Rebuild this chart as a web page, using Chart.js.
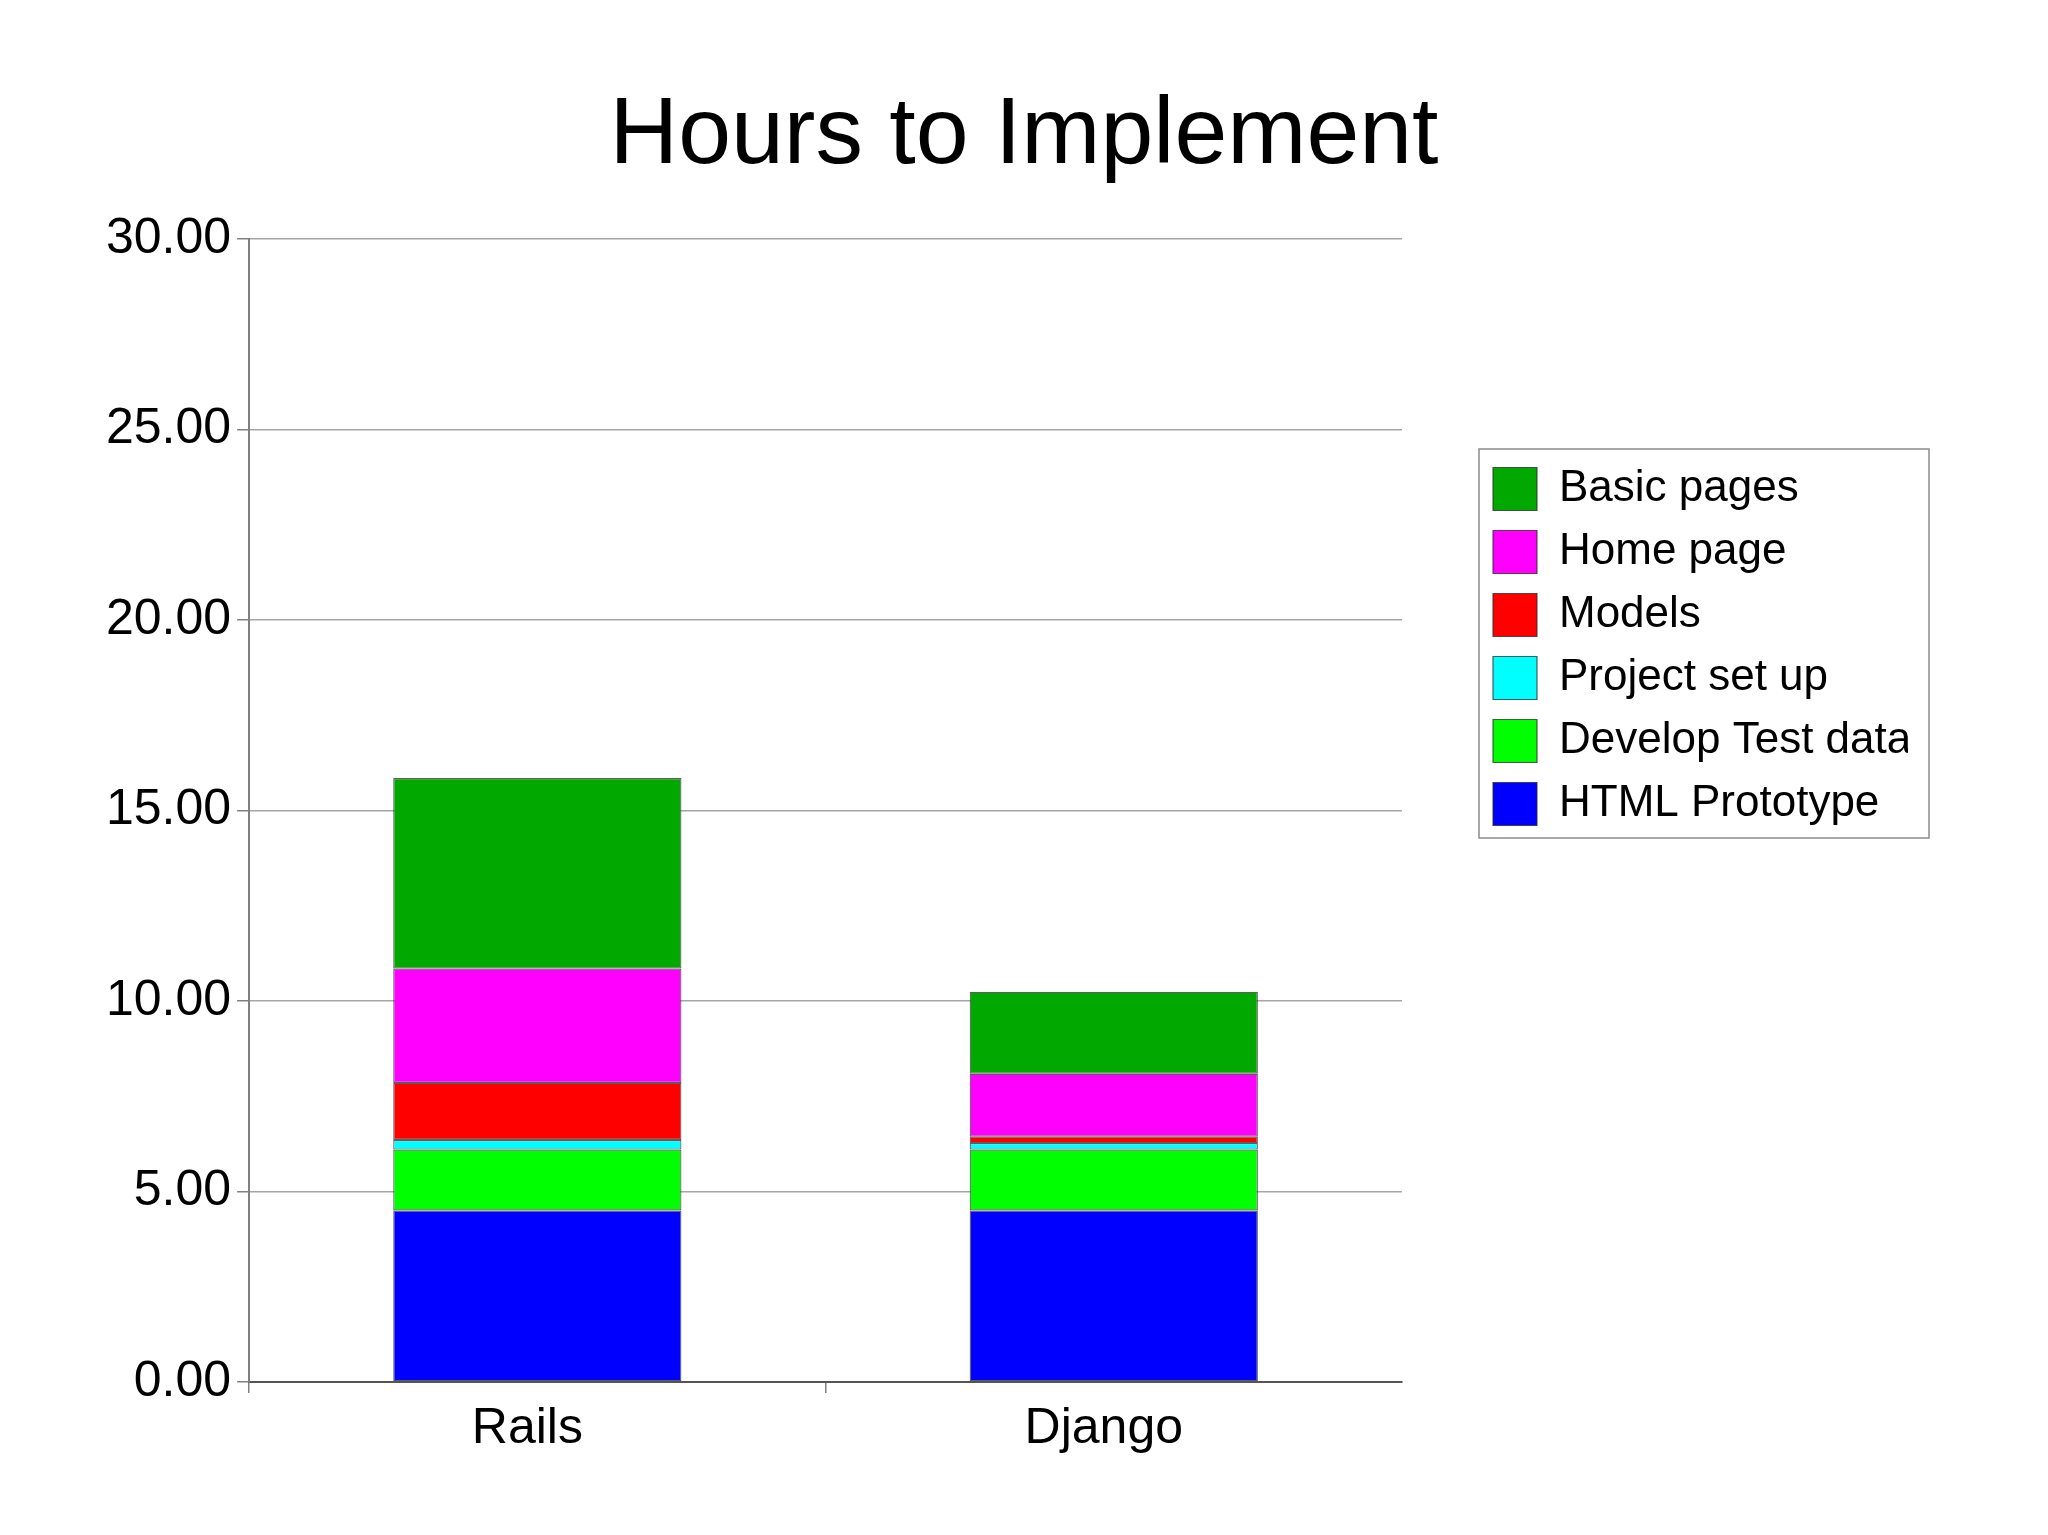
<!DOCTYPE html>
<html>
<head>
<meta charset="utf-8">
<title>Hours to Implement</title>
<script src="https://cdn.jsdelivr.net/npm/chart.js@4.4.1/dist/chart.umd.min.js"></script>
<style>
  html, body { margin: 0; padding: 0; background: #ffffff; }
  #wrap { width: 2048px; height: 1535px; }
</style>
</head>
<body>
<div id="wrap"><canvas id="c" width="2048" height="1535"></canvas></div>
<script>
// ---- Data ----
const categories = ['Rails', 'Django'];
const htmlPrototype   = [4.5, 4.5];
const developTestData = [1.6, 1.6];
const projectSetUp    = [0.25, 0.17];
const models          = [1.5, 0.17];
const homePage        = [3.0, 1.65];
const basicPages      = [5.0, 2.15];
const yTicks = [0, 5, 10, 15, 20, 25, 30];

const seriesNames  = ['HTML Prototype', 'Develop Test data', 'Project set up', 'Models', 'Home page', 'Basic pages'];
const seriesValues = [htmlPrototype, developTestData, projectSetUp, models, homePage, basicPages];
const seriesColors = ['#0000ff', '#00ff00', '#00ffff', '#ff0000', '#ff00ff', '#00a800'];

Chart.defaults.font.family = "'Liberation Sans', Arial, sans-serif";
Chart.defaults.color = '#000000';

const legendPlacer = {
  id: 'legendPlacer',
  afterLayout(chart) {
    // centre the title over the whole canvas
    const tb = chart.titleBlock;
    if (tb) { tb.left = 0; tb.right = chart.width; }
    const lg = chart.legend;
    if (!lg) return;
    const w = lg.width, h = lg.height;
    lg.left = chart.chartArea.right + 72;
    lg.right = lg.left + w;
    lg.top = 448;
    lg.bottom = lg.top + h;
  },
  afterDraw(chart) {
    const lg = chart.legend;
    if (!lg) return;
    const ctx = chart.ctx;
    ctx.save();
    ctx.strokeStyle = '#8c8c8c';
    ctx.lineWidth = 1.5;
    const x0 = lg.left + 5, y0 = lg.top + 1;
    const x1 = lg.left + lg.width + 21, y1 = lg.top + 390;
    ctx.strokeRect(x0, y0, x1 - x0, y1 - y0);
    ctx.restore();
  }
};

const datasets = seriesNames.map((name, i) => ({
  label: name,
  data: seriesValues[i],
  backgroundColor: seriesColors[i],
  borderColor: 'rgba(40,40,40,0.75)',
  borderWidth: 1.2,
  borderSkipped: false,
  categoryPercentage: 1.0,
  barPercentage: 0.5
}));

new Chart(document.getElementById('c'), {
  type: 'bar',
  data: { labels: categories, datasets },
  options: {
    responsive: false,
    animation: false,
    devicePixelRatio: 1,
    layout: { padding: { left: 100, right: 212, top: 0, bottom: 70 } },
    plugins: {
      title: {
        display: true,
        text: 'Hours to Implement',
        color: '#000000',
        font: { size: 95, weight: 'normal' },
        padding: { top: 80, bottom: 45 }
      },
      legend: {
        position: 'right',
        align: 'start',
        reverse: true,
        labels: {
          boxWidth: 44,
          boxHeight: 43,
          padding: 19,
          color: '#000000',
          font: { size: 44 }
        }
      },
      tooltip: { enabled: false }
    },
    scales: {
      x: {
        stacked: true,
        offset: true,
        grid: {
          offset: true,
          drawOnChartArea: false,
          drawTicks: true,
          tickLength: 11,
          color: (c) => (c.tick ? '#808080' : 'rgba(0,0,0,0)'),
          lineWidth: 1.5
        },
        border: { display: true, color: '#555555', width: 2 },
        ticks: {
          color: '#000000',
          font: { size: 50 },
          padding: 6,
          labelOffset: -10
        }
      },
      y: {
        stacked: true,
        min: yTicks[0],
        max: yTicks[yTicks.length - 1],
        afterBuildTicks: (scale) => { scale.ticks = yTicks.map(v => ({ value: v })); },
        grid: {
          color: '#a6a6a6',
          lineWidth: 1.5,
          drawTicks: true,
          tickLength: 12,
          tickColor: '#808080'
        },
        border: { display: true, color: '#808080', width: 2 },
        ticks: {
          color: '#000000',
          font: { size: 50 },
          padding: 6,
          callback: (v) => Number(v).toFixed(2)
        }
      }
    }
  },
  plugins: [legendPlacer]
});
</script>
</body>
</html>
